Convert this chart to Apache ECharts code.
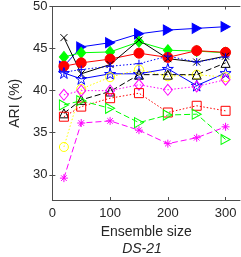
<!DOCTYPE html>
<html><head><meta charset="utf-8">
<script src="https://cdn.jsdelivr.net/npm/echarts@6/dist/echarts.min.js"></script>
<style>html,body{margin:0;padding:0;background:#fff}#c{width:241px;height:257px}</style>
</head><body><div id="c"></div>
<script>
const ensembleSizes = [20, 50, 100, 150, 200, 250, 300];
const xTicks = [0, 100, 200, 300];
const yTicks = [30, 35, 40, 45, 50];
const blueFilledTri = [42.9, 45.2, 45.7, 46.75, 47.2, 47.4, 47.6];
const greenDiamond = [44.0, 44.5, 44.6, 45.8, 44.8, 44.7, 44.5];
const redCircle = [42.9, 43.3, 43.75, 44.45, 43.95, 44.75, 44.55];
const blackCross = [46.3, 42.0, 43.1, 46.0, 43.8, 43.4, 44.1];
const bluePlus = [42.2, 42.5, 42.9, 43.2, 44.1, 43.4, 44.0];
const bluePentagram = [42.1, 41.4, 42.0, 42.0, 42.6, 40.6, 42.1];
const yellowCircle = [33.3, 40.2, 41.6, 42.5, 41.7, 41.9, 41.6];
const blackTriangle = [37.3, 38.9, 39.9, 41.9, 41.9, 41.9, 43.3];
const magentaDiamond = [39.5, 40.0, 40.0, 40.7, 40.1, 40.5, 41.3];
const redSquare = [36.9, 38.1, 39.1, 39.7, 37.4, 38.2, 37.6];
const greenOpenTri = [38.3, 38.8, 37.9, 36.2, 37.1, 37.2, 34.2];
const magentaAsterisk = [29.6, 36.15, 36.4, 35.3, 33.7, 34.4, 35.7];

const FONT = "'Liberation Sans', Arial, Helvetica, sans-serif";
const SOLID = 'solid', DASH = [6, 3], DOT = [1.5, 2];
const P = {
  triR: 'path://M0,0L10,5L0,10Z',
  cross: 'path://M0,0L10,10M10,0L0,10',
  plus: 'path://M5,0L5,10M0,5L10,5',
  star: 'path://M50,0L61.23,34.55L97.55,34.55L68.17,55.9L79.39,90.45L50,69.1L20.61,90.45L31.83,55.9L2.45,34.55L38.77,34.55Z',
  ast: 'path://M5,0L5,10M0,5L10,5M1.5,1.5L8.5,8.5M8.5,1.5L1.5,8.5'
};
function mk(vals, color, dash, symbol, size, filled) {
  return {
    type: 'line',
    data: ensembleSizes.map((x, i) => [x, vals[i]]),
    symbol: symbol, symbolSize: size, showSymbol: true,
    lineStyle: { color: color, width: 1, type: dash },
    itemStyle: { color: filled ? color : 'rgba(0,0,0,0)', borderColor: color, borderWidth: 1 },
    emphasis: { disabled: true }, silent: true, z: 2
  };
}
const series = [
  mk(blueFilledTri, '#0000ff', SOLID, P.triR, [9, 10], true),
  mk(greenDiamond, '#00ff00', SOLID, 'diamond', [9, 11], true),
  mk(redCircle, '#ff0000', SOLID, 'circle', 10, true),
  mk(blackCross, '#000000', SOLID, P.cross, 7, false),
  mk(bluePlus, '#0000ff', DOT, P.plus, 8, false),
  mk(bluePentagram, '#0000ff', SOLID, P.star, 11, false),
  mk(yellowCircle, '#ffff00', DOT, 'circle', 9, false),
  mk(blackTriangle, '#000000', DASH, 'triangle', 9, false),
  mk(magentaDiamond, '#ff00ff', DOT, 'diamond', [9, 11], false),
  mk(redSquare, '#ff0000', DOT, 'rect', 9, false),
  mk(greenOpenTri, '#00ff00', DASH, P.triR, [9, 10], false),
  mk(magentaAsterisk, '#ff00ff', DASH, P.ast, 8, false)
];
const axLine = { show: true, lineStyle: { color: '#4d4d4d', width: 1 } };
function xa(pos, labels) {
  return {
    type: 'value', position: pos, min: 0, max: 325,
    axisLine: axLine, splitLine: { show: false },
    axisTick: { show: true, inside: true, length: 3, lineStyle: { color: '#4d4d4d' }, customValues: xTicks },
    axisLabel: { show: labels, customValues: xTicks, color: '#262626', fontFamily: FONT, fontSize: 13, margin: 7 },
    name: labels ? 'Ensemble size' : '', nameLocation: 'middle', nameGap: 23,
    nameTextStyle: { color: '#262626', fontFamily: FONT, fontSize: 14 }
  };
}
function ya(pos, labels) {
  return {
    type: 'value', position: pos, min: 27, max: 50,
    axisLine: axLine, splitLine: { show: false },
    axisTick: { show: true, inside: true, length: 3, lineStyle: { color: '#4d4d4d' }, customValues: yTicks },
    axisLabel: { show: labels, customValues: yTicks, color: '#262626', fontFamily: FONT, fontSize: 13, margin: 5 },
    name: labels ? 'ARI (%)' : '', nameLocation: 'middle', nameGap: 22,
    nameTextStyle: { color: '#262626', fontFamily: FONT, fontSize: 14 }
  };
}
const chart = echarts.init(document.getElementById('c'), null, { renderer: 'canvas' });
chart.setOption({
  animation: false,
  backgroundColor: '#ffffff',
  grid: { left: 44, top: 4, width: 196, height: 196, containLabel: false },
  xAxis: [xa('bottom', true), xa('top', false)],
  yAxis: [ya('left', true), ya('right', false)],
  series: series,
  graphic: [{ type: 'text', x: 142, y: 249, style: { text: 'DS-21', font: 'italic 14px ' + FONT, fill: '#262626', textAlign: 'center', textVerticalAlign: 'middle' } }]
});
</script></body></html>
